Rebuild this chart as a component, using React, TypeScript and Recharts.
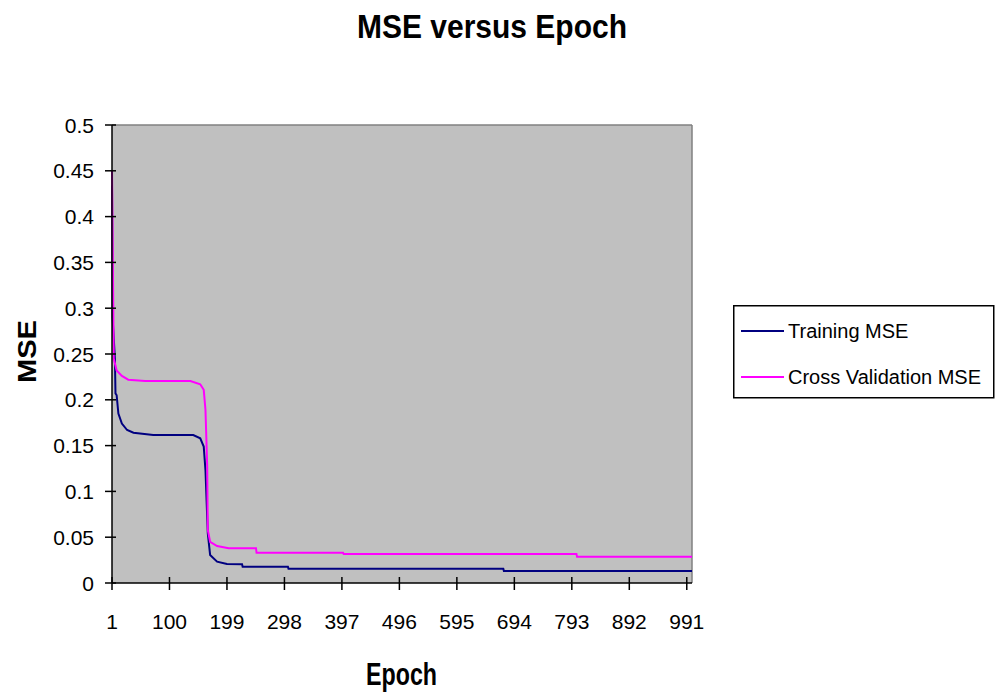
import { CartesianGrid, Line, LineChart, XAxis, YAxis } from "recharts";

// values
const trainEpochs = [1, 2, 6, 7, 9, 12, 18, 27, 38, 72, 141, 153, 159, 162, 166, 170, 182, 199, 225, 226, 304, 305, 675, 676, 1000];
const trainMse = [0.434, 0.29, 0.245, 0.207, 0.205, 0.185, 0.174, 0.167, 0.164, 0.1616, 0.1616, 0.158, 0.149, 0.123, 0.054, 0.0306, 0.0233, 0.0207, 0.0204, 0.0178, 0.0178, 0.0156, 0.0156, 0.0131, 0.0131];

const cvEpochs = [1, 4, 9, 18, 29, 58, 136, 153, 159, 162, 165, 166, 170, 182, 202, 249, 250, 399, 400, 801, 802, 1000];
const cvMse = [0.45, 0.245, 0.232, 0.226, 0.222, 0.2205, 0.2205, 0.217, 0.211, 0.189, 0.127, 0.058, 0.045, 0.0404, 0.038, 0.038, 0.033, 0.033, 0.0317, 0.0317, 0.0287, 0.0287];

const xTicks = [1, 100, 199, 298, 397, 496, 595, 694, 793, 892, 991];
const yTicks = [0, 0.05, 0.1, 0.15, 0.2, 0.25, 0.3, 0.35, 0.4, 0.45, 0.5];

const FONT = "'Liberation Sans', Arial, sans-serif";

const trainData = trainEpochs.map((e, i) => ({ epoch: e, mse: trainMse[i] }));
const cvData = cvEpochs.map((e, i) => ({ epoch: e, mse: cvMse[i] }));

function XTick({ x, y, payload }: any) {
  return (
    <g>
      <line x1={x} x2={x} y1={y - 6} y2={y + 7} stroke="#000" strokeWidth={1.5} />
      <text x={x} y={y + 46} textAnchor="middle" fontSize={21} fontFamily={FONT} fill="#000">
        {payload.value}
      </text>
    </g>
  );
}

function YTick({ x, y, payload }: any) {
  return (
    <g>
      <line x1={x - 7} x2={x + 4} y1={y} y2={y} stroke="#000" strokeWidth={1.5} />
      <text x={x - 18} y={y + 7.5} textAnchor="end" fontSize={21} fontFamily={FONT} fill="#000">
        {String(Number(payload.value.toFixed(2)))}
      </text>
    </g>
  );
}

function LegendBox() {
  return (
    <svg width={262} height={94} style={{ display: "block" }}>
      <rect x={0.75} y={0.75} width={260} height={92} fill="#fff" stroke="#000" strokeWidth={1.5} />
      <line x1={8} x2={51} y1={26} y2={26} stroke="#000080" strokeWidth={2} />
      <text x={55} y={33} fontSize={20} fontFamily={FONT} fill="#000">Training MSE</text>
      <line x1={8} x2={51} y1={72} y2={72} stroke="#ff00ff" strokeWidth={2} />
      <text x={55} y={79} fontSize={20} fontFamily={FONT} fill="#000">Cross Validation MSE</text>
    </svg>
  );
}

export default function App() {
  return (
    <div style={{ position: "absolute", left: 0, top: 0, width: 1000, height: 693, background: "#fff" }}>
      <LineChart width={1000} height={693} margin={{ top: 125, right: 308, bottom: 109, left: 111 }}>
        <CartesianGrid
          fill="#c0c0c0"
          fillOpacity={1}
          stroke="#808080"
          strokeWidth={1.5}
          horizontalPoints={[125]}
          verticalPoints={[692]}
        />
        <XAxis
          dataKey="epoch"
          type="number"
          domain={[1, 1000]}
          ticks={xTicks}
          height={1}
          tickSize={0}
          tickMargin={0}
          tickLine={false}
          axisLine={{ stroke: "#000", strokeWidth: 1.5 }}
          tick={<XTick />}
          interval={0}
        />
        <YAxis
          type="number"
          domain={[0, 0.5]}
          ticks={yTicks}
          width={1}
          tickSize={0}
          tickMargin={0}
          tickLine={false}
          axisLine={{ stroke: "#000", strokeWidth: 1.5 }}
          tick={<YTick />}
          interval={0}
        />
        <Line
          data={trainData}
          dataKey="mse"
          name="Training MSE"
          stroke="#000080"
          strokeWidth={2}
          dot={false}
          type="linear"
          isAnimationActive={false}
        />
        <Line
          data={cvData}
          dataKey="mse"
          name="Cross Validation MSE"
          stroke="#ff00ff"
          strokeWidth={2}
          dot={false}
          type="linear"
          isAnimationActive={false}
        />
        <text x={492} y={38} textAnchor="middle" fontSize={34} fontWeight="bold" fontFamily={FONT} textLength={270} lengthAdjust="spacingAndGlyphs">
          MSE versus Epoch
        </text>
        <text x={401.5} y={685} textAnchor="middle" fontSize={31} fontWeight="bold" fontFamily={FONT} textLength={71} lengthAdjust="spacingAndGlyphs">
          Epoch
        </text>
        <text
          x={36}
          y={351.5}
          transform="rotate(-90 36 351.5)"
          textAnchor="middle"
          fontSize={25}
          fontWeight="bold"
          fontFamily={FONT}
          textLength={63}
          lengthAdjust="spacingAndGlyphs"
        >
          MSE
        </text>
      </LineChart>
      <div style={{ position: "absolute", left: 733, top: 305 }}>
        <LegendBox />
      </div>
    </div>
  );
}
